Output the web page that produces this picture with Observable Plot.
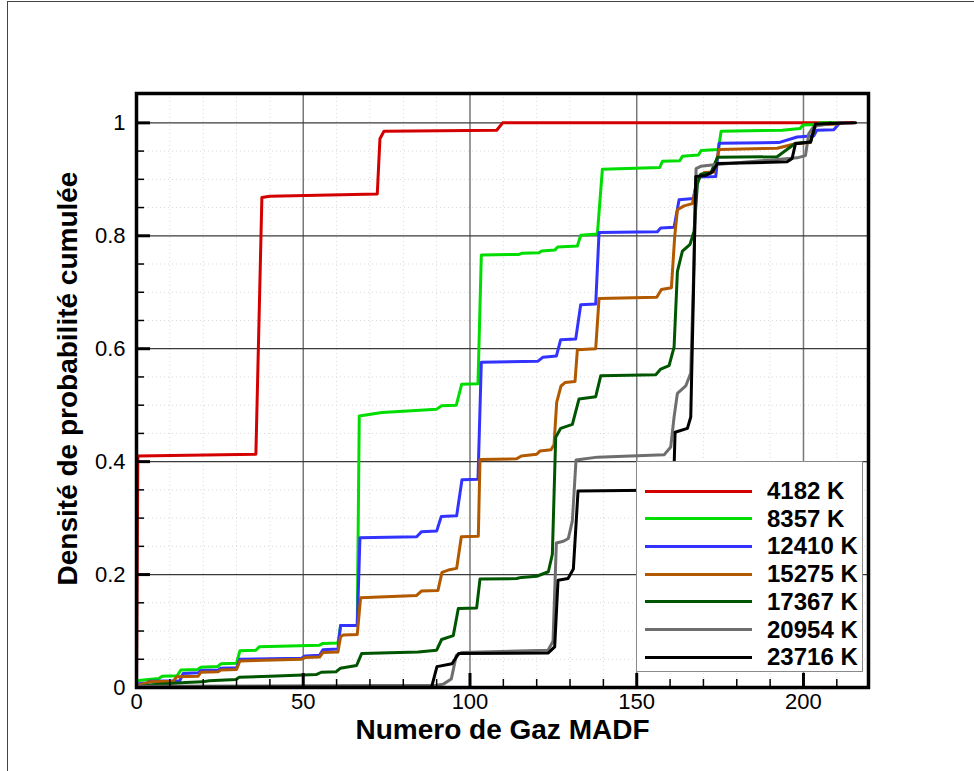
<!DOCTYPE html>
<html>
<head>
<meta charset="utf-8">
<script src="https://cdn.jsdelivr.net/npm/d3@7"></script>
<script src="https://cdn.jsdelivr.net/npm/@observablehq/plot@0.6"></script>
<style>
  html, body { margin: 0; padding: 0; background: #fff; overflow: hidden; }
  #wrap { position: relative; width: 974px; height: 771px; font-family: "Liberation Sans", Arial, sans-serif; }
  #page-frame { position: absolute; left: 7px; top: 1px; width: 2000px; height: 2000px; border-left: 1px solid #444; border-top: 1px solid #444; }
  #legend { position: absolute; left: 636px; top: 461px; width: 225px; height: 209px; background: #fff; border: 1.5px solid #8a8a8a; }
  .row { position: absolute; left: 0; height: 26px; width: 100%; }
  .sw { position: absolute; left: 8px; width: 107px; top: 11.5px; height: 3px; }
  .lab { position: absolute; left: 130px; top: 0; font-size: 24px; font-weight: bold; line-height: 26px; color: #000; white-space: nowrap; }
</style>
</head>
<body>
<div id="wrap">
  <div id="page-frame"></div>
  <div id="chart"></div>
  <div id="legend"></div>
</div>
<script>
// ---- data (x = Numero de Gaz MADF, y = densité cumulée) ----
const seriesNames = ["4182 K", "8357 K", "12410 K", "15275 K", "17367 K", "20954 K", "23716 K"];
const seriesColors = ["#d40000", "#00dd00", "#3333ff", "#b25900", "#005500", "#6e6e6e", "#000000"];

const red = [[0,0],[0.4,0.41],[35.8,0.413],[37.6,0.868],[40,0.87],[72.2,0.874],[73,0.972],[74.2,0.985],[108,0.987],[109.8,1.0],[215,1.0]];

const green = [[0,0.012],[6.7,0.016],[7.7,0.02],[12.2,0.021],[13.3,0.031],[18.3,0.032],[19.3,0.036],[24.3,0.037],[25.3,0.042],[30,0.043],[31,0.065],[35.8,0.066],[36.8,0.072],[54.9,0.075],[55.9,0.078],[60.4,0.079],[61.2,0.11],[66.2,0.11],[66.8,0.481],[73.6,0.487],[90,0.493],[91.5,0.499],[95.9,0.5],[97.5,0.537],[102.4,0.538],[103.4,0.766],[114.7,0.767],[115.5,0.769],[120.7,0.77],[121.5,0.773],[125.5,0.775],[126.3,0.78],[132.2,0.782],[133.2,0.801],[138.2,0.803],[139.7,0.918],[156.9,0.921],[157.7,0.932],[162.9,0.933],[163.7,0.941],[168.5,0.943],[169.3,0.951],[174.5,0.953],[175.3,0.985],[193.6,0.987],[199,0.99],[199.8,0.996],[204,0.997],[205,1.0],[210,1.0]];

const blue = [[0,0.006],[3,0.008],[4,0.011],[13,0.012],[14,0.025],[18.5,0.026],[19.3,0.03],[24.5,0.031],[25.3,0.034],[30,0.035],[31,0.05],[49.5,0.052],[50.5,0.056],[54.9,0.057],[55.9,0.067],[60.4,0.068],[61.2,0.11],[66.2,0.11],[67,0.265],[84,0.267],[85.5,0.276],[90,0.277],[91.4,0.303],[96,0.304],[97.6,0.368],[102.4,0.369],[103.4,0.576],[120.4,0.578],[121.9,0.585],[125.9,0.587],[127.2,0.616],[131.7,0.617],[133.2,0.678],[137.7,0.679],[138.7,0.806],[156.2,0.807],[157.2,0.814],[161.2,0.815],[162.7,0.864],[167,0.866],[168.2,0.904],[173.7,0.905],[174.7,0.964],[192.6,0.965],[198.1,0.975],[203.1,0.977],[204,0.987],[209.1,0.988],[210.9,1.0]];

const orange = [[0,0.003],[3,0.008],[4,0.01],[11,0.011],[12,0.019],[18.5,0.02],[19.3,0.027],[24.5,0.028],[25.3,0.031],[30,0.032],[31,0.047],[49.5,0.05],[50.5,0.053],[54.9,0.054],[55.9,0.062],[60.4,0.063],[61.2,0.09],[62,0.093],[66.2,0.094],[67.2,0.159],[84,0.163],[85.5,0.171],[90.4,0.172],[91.6,0.204],[93.5,0.208],[96,0.211],[97.4,0.267],[102.5,0.268],[103,0.404],[114,0.405],[115.4,0.41],[120,0.413],[121,0.419],[124.3,0.421],[125.2,0.43],[126,0.505],[127.3,0.534],[128.5,0.54],[131.5,0.542],[132.2,0.598],[137.7,0.6],[138.7,0.689],[156,0.691],[157.4,0.705],[160.4,0.708],[161.4,0.8],[162.2,0.846],[164.2,0.853],[166.7,0.857],[168.2,0.9],[170.2,0.912],[173.2,0.913],[174.7,0.953],[192.1,0.955],[197.6,0.963],[202.1,0.965],[203.6,0.996],[210.1,0.998],[211,1.0]];

const darkGreen = [[0,0.001],[4.7,0.005],[14.8,0.009],[19.8,0.01],[21.8,0.012],[29.8,0.014],[30.8,0.018],[39.9,0.02],[49.9,0.022],[53.9,0.023],[55.4,0.027],[59.9,0.028],[61.1,0.034],[66,0.039],[67.5,0.06],[84.5,0.063],[90,0.066],[91.5,0.085],[95,0.092],[96.5,0.14],[102,0.141],[103,0.192],[114,0.193],[115.4,0.195],[120,0.197],[123.5,0.205],[124.7,0.236],[125.7,0.443],[127.2,0.459],[130.7,0.466],[132.7,0.511],[137.7,0.515],[139.2,0.552],[155.7,0.554],[157.2,0.564],[159.7,0.57],[161.2,0.603],[162.2,0.737],[163.7,0.773],[166,0.785],[167.2,0.808],[168.2,0.892],[169.2,0.909],[172.2,0.911],[174.2,0.939],[192.1,0.94],[197.6,0.964],[202.1,0.966],[203.6,0.996],[208,1.0]];

const gray = [[0,0.002],[90,0.004],[92,0.006],[94.4,0.015],[95.9,0.057],[97.5,0.062],[123.4,0.066],[124.9,0.082],[125.9,0.256],[128,0.259],[129.5,0.264],[130.7,0.295],[131.8,0.403],[138.2,0.408],[158.2,0.412],[160.2,0.426],[161.2,0.479],[162.2,0.521],[164.7,0.534],[166.2,0.557],[167.2,0.761],[167.8,0.919],[169.2,0.923],[173.2,0.926],[198.1,0.938],[200.6,0.942],[201.6,0.981],[203.1,0.994],[208.1,0.999],[212,1.0]];

const black = [[0,0],[88.5,0.001],[90.1,0.037],[94.6,0.042],[96.6,0.06],[123.4,0.061],[125.4,0.072],[126.4,0.19],[129.4,0.193],[131,0.21],[132.4,0.348],[161,0.35],[161.5,0.452],[165.2,0.459],[166.2,0.479],[167,0.695],[167.7,0.905],[170.7,0.907],[172.7,0.913],[174.2,0.928],[195.1,0.931],[196.6,0.937],[197.6,0.963],[202.1,0.966],[203.6,0.998],[215.6,1.0]];

const seriesPoints = [red, green, blue, orange, darkGreen, gray, black];

const xMajor = [0, 50, 100, 150, 200];
const yMajor = [0, 0.2, 0.4, 0.6, 0.8, 1];
const xMinor = d3.range(10, 220, 10).filter(v => v % 50 !== 0);
const yMinor = d3.range(1, 21).map(i => +(i * 0.05).toFixed(2)).filter(v => Math.abs(v / 0.2 - Math.round(v / 0.2)) > 1e-6);

const xTitle = "Numero de Gaz MADF";
const yTitle = "Densité de probabilité cumulée";

// ---- build table ----
const table = seriesPoints.flatMap((pts, i) => pts.map(([x, y]) => ({x, y, s: seriesNames[i]})));

const W = 974, H = 771;
const mL = 136, mR = 106, mT = 93, mB = 84;
const fw = W - mL - mR, fh = H - mT - mB;

const chart = Plot.plot({
  width: W, height: H,
  marginLeft: mL, marginRight: mR, marginTop: mT, marginBottom: mB,
  style: {fontFamily: "'Liberation Sans', Arial, sans-serif", background: "transparent", color: "#000"},
  x: {domain: [0, 219.5]},
  y: {domain: [0, 1.052]},
  color: {domain: seriesNames, range: seriesColors},
  marks: [
    Plot.ruleX(xMinor, {x: d => d, stroke: "#dadada", strokeWidth: 1, strokeDasharray: "1,3"}),
    Plot.ruleY(yMinor, {y: d => d, stroke: "#dadada", strokeWidth: 1, strokeDasharray: "1,3"}),
    Plot.gridX(xMajor.filter(v => v > 0), {stroke: "#777", strokeOpacity: 1, strokeWidth: 1.5}),
    Plot.gridY(yMajor.filter(v => v > 0), {stroke: "#3a3a3a", strokeOpacity: 1, strokeWidth: 1.2}),
    Plot.line(table, {x: "x", y: "y", z: "s", stroke: "s", strokeWidth: 3, strokeLinejoin: "round"}),
    Plot.tickX(xMinor, {x: d => d, insetTop: fh - 8, stroke: "#000", strokeWidth: 1.5}),
    Plot.tickX(xMajor, {x: d => d, insetTop: fh - 14, stroke: "#000", strokeWidth: 3}),
    Plot.tickY(yMinor, {y: d => d, insetRight: fw - 8, stroke: "#000", strokeWidth: 1.5}),
    Plot.tickY(yMajor, {y: d => d, insetRight: fw - 14, stroke: "#000", strokeWidth: 3}),
    Plot.frame({stroke: "#000", strokeWidth: 3.5}),
    Plot.axisX(xMajor, {tickSize: 0, tickPadding: 6, fontSize: 22, label: null}),
    Plot.axisY(yMajor, {tickSize: 0, tickPadding: 11, fontSize: 22, label: null, tickFormat: d => String(d)}),
    Plot.text([xTitle], {text: d => d, frameAnchor: "bottom", textAnchor: "middle", lineAnchor: "middle", dy: 43, fontSize: 28, fontWeight: "bold", fill: "#000"}),
    Plot.text([yTitle], {text: d => d, frameAnchor: "left", textAnchor: "middle", lineAnchor: "middle", rotate: -90, dx: -68, dy: -12, fontSize: 28, fontWeight: "bold", fill: "#000"})
  ]
});
document.getElementById("chart").appendChild(chart);

// ---- legend ----
const legend = document.getElementById("legend");
seriesNames.forEach((name, i) => {
  const row = document.createElement("div");
  row.className = "row";
  row.style.top = (16 + i * 27.7) + "px";
  const sw = document.createElement("div");
  sw.className = "sw";
  sw.style.background = seriesColors[i];
  const lab = document.createElement("div");
  lab.className = "lab";
  lab.textContent = name;
  row.appendChild(sw);
  row.appendChild(lab);
  legend.appendChild(row);
});
</script>
</body>
</html>
